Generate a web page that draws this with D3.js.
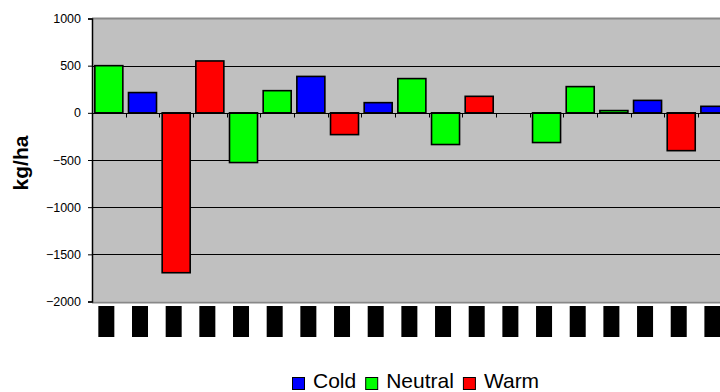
<!DOCTYPE html>
<html>
<head>
<meta charset="utf-8">
<script src="https://cdn.jsdelivr.net/npm/d3@7"></script>
<style>
  html, body { margin: 0; padding: 0; background: #fff; }
  svg { display: block; font-family: "Liberation Sans", Arial, sans-serif; }
</style>
</head>
<body>
<svg id="chart" width="720" height="392"></svg>
<script>
// Yield anomaly per season, coloured by ENSO phase
const categories = ["S1","S2","S3","S4","S5","S6","S7","S8","S9","S10","S11","S12","S13","S14","S15","S16","S17","S18","S19"];
const anomaly = [500, 215, -1695, 550, -527, 235, 386, -231, 108, 363, -336, 175, null, -315, 278, 24, 132, -401, 69];
const phase = ["Neutral","Cold","Warm","Warm","Neutral","Neutral","Cold","Warm","Cold","Neutral","Neutral","Warm",null,"Neutral","Neutral","Neutral","Cold","Warm","Cold"];
const phases = ["Cold", "Neutral", "Warm"];
const phaseColors = ["#0000ff", "#00ff00", "#ff0000"];
const yTicks = [1000, 500, 0, -500, -1000, -1500, -2000];

const svg = d3.select("#chart");
const plotLeft = 92, plotTop = 18.5, plotBottom = 301.5;
const step = 33.67;
const plotRight = plotLeft + categories.length * step;

const y = d3.scaleLinear().domain([-2000, 1000]).range([plotBottom, plotTop]);
const slot = d3.scaleBand().domain(categories).range([plotLeft, plotRight]);
const x = d3.scaleBand().domain(categories).range([plotLeft, plotRight])
  .paddingInner(0.168).paddingOuter(0.084);
const color = d3.scaleOrdinal().domain(phases).range(phaseColors);

// plot background
svg.append("rect")
  .attr("x", plotLeft).attr("y", plotTop)
  .attr("width", plotRight - plotLeft).attr("height", plotBottom - plotTop)
  .attr("fill", "#c0c0c0");

// horizontal gridlines
svg.append("g").selectAll("line")
  .data(yTicks.filter(d => d !== 1000 && d !== -2000))
  .join("line")
  .attr("x1", plotLeft).attr("x2", plotRight)
  .attr("y1", d => Math.round(y(d)) + 0.5).attr("y2", d => Math.round(y(d)) + 0.5)
  .attr("stroke", "#000").attr("stroke-width", 1);

// plot frame (top and bottom)
svg.append("line")
  .attr("x1", plotLeft).attr("x2", plotRight)
  .attr("y1", plotTop).attr("y2", plotTop)
  .attr("stroke", "#888").attr("stroke-width", 2);
svg.append("line")
  .attr("x1", plotLeft).attr("x2", plotRight)
  .attr("y1", plotBottom + 1).attr("y2", plotBottom + 1)
  .attr("stroke", "#888").attr("stroke-width", 2);

// bars
const rows = categories.map((c, i) => ({ c, v: anomaly[i], p: phase[i] }))
  .filter(d => d.v !== null);
svg.append("g").selectAll("rect")
  .data(rows)
  .join("rect")
  .attr("x", d => x(d.c))
  .attr("width", x.bandwidth())
  .attr("y", d => y(Math.max(0, d.v)))
  .attr("height", d => Math.abs(y(d.v) - y(0)))
  .attr("fill", d => color(d.p))
  .attr("stroke", "#000")
  .attr("stroke-width", 1.6);

// category axis along zero, ticks between categories
const zeroY = Math.round(y(0)) + 0.5;
svg.append("line")
  .attr("x1", plotLeft).attr("x2", plotRight)
  .attr("y1", zeroY).attr("y2", zeroY)
  .attr("stroke", "#000");
svg.append("g").selectAll("line")
  .data(categories.slice(1))
  .join("line")
  .attr("x1", d => Math.round(slot(d)) + 0.5).attr("x2", d => Math.round(slot(d)) + 0.5)
  .attr("y1", zeroY).attr("y2", zeroY + 4)
  .attr("stroke", "#000");

// category labels (blacked-out blocks below the plot)
svg.append("g").selectAll("rect")
  .data(categories)
  .join("rect")
  .attr("x", d => slot(d) + slot.bandwidth() / 2 - 10.5)
  .attr("y", 306)
  .attr("width", 16)
  .attr("height", 31)
  .attr("fill", "#000");

// value axis
const yAxis = svg.append("g")
  .attr("transform", `translate(${plotLeft},0)`)
  .call(d3.axisLeft(y).tickValues(yTicks).tickFormat(d3.format("d")).tickSize(4).tickPadding(7));
yAxis.select(".domain").attr("stroke", "#000").attr("stroke-width", 1.5);
yAxis.selectAll(".tick line").attr("stroke", "#000");
yAxis.selectAll(".tick text")
  .attr("font-family", "Liberation Sans, Arial, sans-serif")
  .attr("font-size", 12.5)
  .attr("fill", "#000");

// value axis title
svg.append("text")
  .attr("transform", "translate(28,163) rotate(-90)")
  .attr("text-anchor", "middle")
  .attr("font-size", 21)
  .attr("font-weight", "bold")
  .text("kg/ha");

// legend
const legend = svg.append("g");
let lx = 292;
phases.forEach((p, i) => {
  legend.append("rect")
    .attr("x", lx + 0.5).attr("y", 377.5)
    .attr("width", 12).attr("height", 12)
    .attr("fill", phaseColors[i])
    .attr("stroke", "#000").attr("stroke-width", 1);
  const t = legend.append("text")
    .attr("x", lx + 21).attr("y", 387.5)
    .attr("font-size", 21)
    .text(p);
  lx += 21 + t.node().getComputedTextLength() + 9;
});
</script>
</body>
</html>
